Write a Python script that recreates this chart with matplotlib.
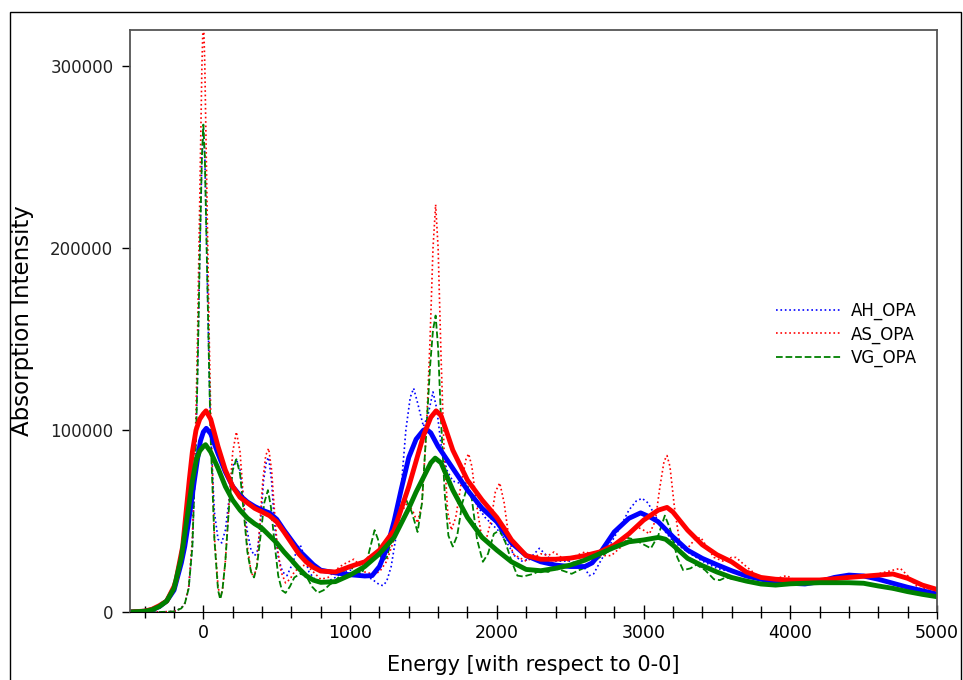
import numpy as np
import matplotlib
matplotlib.use("Agg")
import matplotlib.pyplot as plt
from matplotlib.ticker import MultipleLocator
from matplotlib.patches import Rectangle

# intensities, in thousands
# ---- narrow spectra (dotted / dashed) ----
ah_x = [-500, -300, -200, -150, -125, -100, -75, -50, -40, -25, -10, 0, 10, 25, 40, 50, 75, 100, 125,
        150, 175, 200, 225, 250, 275, 300, 325, 350, 370, 390, 410, 430, 445, 465, 485, 510, 540, 570,
        610, 640, 660, 690, 720, 760, 800, 850, 900, 950, 1000, 1050, 1100, 1150, 1200, 1225, 1250, 1280,
        1310, 1350, 1380, 1410, 1433, 1460, 1500, 1530, 1565, 1590, 1620, 1660, 1700, 1740, 1780, 1820,
        1870, 1920, 1970, 2020, 2070, 2120, 2170, 2220, 2290, 2340, 2380, 2440, 2500, 2560, 2600, 2630,
        2660, 2700, 2750, 2800, 2850, 2900, 2950, 2990, 3030, 3100, 3150, 3200, 3300, 3400, 3500, 3600,
        3700, 3800, 3900, 4000, 4100, 4200, 4300, 4400, 4500, 4600, 4700, 4800, 4900, 5000]
ah_y = [0, 0, 0.3, 2, 5, 13, 36, 95, 130, 195, 250, 266, 250, 190, 130, 98, 55, 40, 38,
        45, 62, 80, 84, 78, 60, 44, 34, 31, 34, 50, 72, 83, 85, 72, 48, 30, 22, 20,
        27, 35, 37, 30, 22, 18, 17, 17, 19, 22, 23, 22, 20, 18, 15, 14.5, 17, 25,
        40, 70, 100, 118, 123, 115, 102, 108, 121, 112, 92, 78, 72, 71, 72, 66,
        58, 52, 48, 44, 38, 31, 28, 29, 35, 31, 28, 28, 28, 26, 24, 20,
        21, 27, 34, 41, 48, 56, 61, 62.5, 60, 50, 44, 39, 33, 28, 24, 22,
        19.5, 18, 16.5, 15.5, 15, 16.5, 19, 20.5, 20, 18, 15.5, 13.5, 11.5, 9.8]

as_x = [-500, -300, -200, -150, -125, -100, -75, -50, -40, -25, -10, 0, 10, 25, 40, 50, 75, 100, 115,
        130, 150, 175, 200, 225, 250, 275, 300, 325, 345, 365, 385, 405, 425, 445, 465, 485, 505, 530,
        560, 590, 620, 660, 700, 750, 800, 850, 900, 950, 1000, 1025, 1050, 1100, 1150, 1200, 1250, 1300,
        1350, 1390, 1430, 1460, 1490, 1520, 1545, 1565, 1583, 1600, 1620, 1640, 1665, 1690, 1720, 1760,
        1790, 1808, 1830, 1860, 1895, 1925, 1960, 1990, 2020, 2050, 2080, 2110, 2150, 2200, 2250, 2300,
        2350, 2390, 2440, 2480, 2540, 2600, 2650, 2700, 2780, 2850, 2900, 2950, 3000, 3040, 3080, 3110,
        3140, 3160, 3180, 3210, 3250, 3300, 3350, 3390, 3430, 3480, 3540, 3600, 3630, 3700, 3790, 3880,
        3930, 3975, 4020, 4100, 4200, 4300, 4400, 4500, 4600, 4700, 4750, 4800, 4850, 4880, 4930, 5000]
as_y = [0, 0, 0.3, 2, 5, 14, 40, 110, 150, 225, 300, 330, 300, 225, 150, 110, 42, 14, 8,
        12, 28, 60, 88, 99, 88, 60, 36, 22, 19, 26, 48, 72, 86, 90, 78, 55, 35, 22,
        16, 18, 22, 25, 26, 22, 18, 19, 23, 26, 28, 29, 27, 22, 21, 22, 28, 40,
        55, 60, 55, 49, 60, 100, 150, 200, 224, 200, 140, 90, 55, 45, 52, 72,
        84, 87, 80, 60, 42, 39, 50, 66, 71, 60, 42, 32, 30, 28, 30, 32,
        31, 33, 30, 28, 31, 33, 32, 31, 31, 36, 42, 47, 45, 43, 50, 68,
        83, 86, 80, 58, 36, 35, 40, 41, 36, 30, 28, 30, 30, 25, 19, 18,
        19, 20, 18, 17.5, 17.5, 18, 19, 19.5, 21, 23, 24, 20, 15, 13, 13, 12]

vg_x = [-500, -300, -200, -150, -125, -100, -75, -50, -40, -25, -10, 0, 10, 25, 40, 50, 75, 100, 115,
        130, 150, 175, 200, 225, 250, 275, 300, 325, 345, 365, 390, 415, 440, 460, 485, 510, 535, 560,
        590, 620, 660, 700, 740, 780, 820, 860, 900, 950, 1000, 1040, 1080, 1120, 1167, 1190, 1216, 1250,
        1290, 1330, 1380, 1420, 1460, 1490, 1520, 1545, 1565, 1583, 1600, 1620, 1645, 1670, 1700, 1730,
        1765, 1800, 1830, 1865, 1905, 1940, 1980, 2020, 2060, 2100, 2140, 2180, 2250, 2300, 2350, 2390,
        2440, 2510, 2560, 2620, 2700, 2790, 2880, 2930, 2980, 3050, 3100, 3145, 3180, 3230, 3270, 3320,
        3360, 3420, 3480, 3520, 3560, 3620, 3700, 3800, 3900, 4000, 4200, 4400, 4500, 4600, 4700, 4800,
        4900, 5000]
vg_y = [0, 0, 0.3, 2, 5, 13, 36, 95, 130, 195, 250, 268, 250, 190, 130, 95, 40, 12, 7,
        12, 28, 58, 78, 84, 76, 55, 33, 22, 19, 25, 42, 60, 67, 58, 38, 20, 12, 10.5,
        14, 19, 21, 20, 14, 10.5, 12, 15, 17, 22, 25, 22, 21, 30, 45, 40, 28, 30,
        42, 55, 62, 55, 44, 60, 100, 135, 155, 163, 145, 105, 65, 42, 36, 42,
        60, 69, 62, 40, 27.6, 32, 43, 45, 38, 28, 20, 19.5, 21, 23, 22, 24,
        23, 21, 23, 25, 30, 35, 41, 40, 38, 35, 42, 53, 46, 30, 23, 24,
        26, 23, 18, 17.5, 19, 18, 16.5, 15, 14.5, 15.5, 16, 16, 15.5, 14, 12.5, 11,
        9.5, 8]

# ---- broadened spectra (thick solid) ----
ahb_x = [-500, -400, -350, -300, -250, -200, -150, -127, -100, -61, -40, -20, 0, 20, 50, 100, 150, 200, 250,
         300, 350, 400, 450, 500, 550, 600, 650, 700, 750, 800, 900, 1000, 1100, 1150, 1200, 1250, 1300,
         1350, 1400, 1450, 1500, 1520, 1550, 1600, 1650, 1700, 1800, 1900, 2000, 2100, 2200, 2300, 2400,
         2500, 2600, 2650, 2700, 2750, 2800, 2900, 2980, 3050, 3100, 3200, 3300, 3400, 3500, 3600, 3700,
         3800, 3900, 4000, 4100, 4200, 4300, 4400, 4500, 4600, 4700, 4800, 4900, 5000]
ahb_y = [0, 0.4, 1.2, 3, 6, 12, 27, 36, 50, 72.5, 84, 94, 99, 101, 98, 87, 77, 69, 64,
         60.5, 58, 56, 54.5, 51, 45, 39.5, 34, 30, 26, 23, 21.5, 20.5, 19.8, 20, 25, 35, 50,
         68, 85, 95, 100, 100.5, 98.5, 91, 85, 79, 67, 57, 49.6, 38, 31, 27.6, 25.8,
         25, 25, 27, 32, 38, 44, 51.5, 54.5, 52, 49.6, 41.4, 34, 29.5, 26, 22.7, 19.8,
         18, 16.7, 15.8, 15.4, 16.7, 19, 20.3, 19.8, 18, 15.8, 13.6, 11.7, 9.9]

asb_x = [-500, -400, -350, -300, -250, -200, -186, -141, -96, -75, -50, -25, 0, 18, 50, 100, 150, 200, 250, 300,
         350, 400, 450, 500, 550, 600, 650, 700, 750, 800, 900, 1000, 1100, 1200, 1300, 1400, 1450, 1500,
         1550, 1586, 1620, 1650, 1700, 1800, 1900, 2000, 2050, 2100, 2200, 2300, 2400, 2500, 2600, 2700,
         2800, 2900, 3000, 3100, 3160, 3200, 3300, 3400, 3500, 3600, 3700, 3800, 3900, 4000, 4200, 4400,
         4600, 4700, 4800, 4900, 5000]
asb_y = [0, 0.5, 1.5, 3.5, 6, 14, 17.6, 36, 72.5, 88, 100, 106, 109, 110.6, 106, 91, 78, 69, 63, 60,
         57, 55, 53, 49.6, 44, 38, 32, 27.6, 24.5, 22.5, 22, 25, 27.6, 34, 45, 69, 83, 97,
         107, 110.6, 108, 101, 89, 72.5, 61.5, 52, 46, 39.6, 31, 29, 29, 29.6, 31, 33,
         36.8, 43, 50.5, 56, 57.5, 55, 45, 37, 31.5, 27.6, 22, 19, 18, 17.6, 17.6, 19,
         20.3, 20.9, 18.5, 14.8, 12.4]

vgb_x = [-500, -400, -350, -300, -250, -200, -150, -100, -75, -50, -25, 0, 15, 50, 100, 150, 200, 250, 300,
         350, 400, 450, 500, 550, 600, 650, 700, 750, 800, 900, 1000, 1100, 1200, 1300, 1400, 1450, 1500,
         1550, 1580, 1620, 1700, 1800, 1900, 2000, 2100, 2200, 2300, 2400, 2500, 2600, 2700, 2800, 2900,
         3000, 3100, 3150, 3200, 3300, 3400, 3500, 3600, 3700, 3800, 3900, 4000, 4200, 4400, 4500, 4600,
         4700, 4800, 4900, 5000]
vgb_y = [0, 0.4, 1.2, 3, 6, 13, 30, 58, 72, 83, 88.5, 91, 92, 88, 79, 69, 61.5, 56, 51.6,
         48.5, 46, 42, 38, 33, 28.6, 24, 20, 17.5, 16.3, 16.7, 20.3, 25, 32, 41, 57, 66, 74,
         82, 84.6, 82, 67, 52, 41, 34, 27.6, 23.4, 22.7, 24, 25.8, 28.5, 32, 35.5, 38.6,
         39.6, 41, 40, 36.8, 29.5, 25.5, 22, 19, 17, 15.4, 14.8, 15.5, 16.1, 16.1, 15.8, 14.3,
         13, 11.2, 9.7, 8.4]

K = 1000.0

fig = plt.figure(figsize=(9.63, 6.8), dpi=100)
ax = fig.add_axes([130 / 963, 68 / 680, 807 / 963, 582 / 680])

ax.plot(ah_x, np.array(ah_y) * K, color="blue", ls=":", lw=1.2, label="AH_OPA")
ax.plot(as_x, np.array(as_y) * K, color="red", ls=":", lw=1.2, label="AS_OPA")
ax.plot(vg_x, np.array(vg_y) * K, color="green", ls="--", lw=1.3, label="VG_OPA")

ax.plot(ahb_x, np.array(ahb_y) * K, color="blue", lw=3.5)
ax.plot(asb_x, np.array(asb_y) * K, color="red", lw=3.5)
ax.plot(vgb_x, np.array(vgb_y) * K, color="green", lw=3.5)

ax.set_xlim(-500, 5000)
ax.set_ylim(0, 320000)
ax.set_yticks([0, 100000, 200000, 300000])
ax.xaxis.set_major_locator(MultipleLocator(1000))
ax.xaxis.set_minor_locator(MultipleLocator(200))
ax.tick_params(axis="x", which="major", direction="inout", length=10, width=1, labelsize=12.5, pad=4)
ax.tick_params(axis="x", which="minor", direction="inout", length=8, width=1)
ax.tick_params(axis="y", direction="out", length=6, width=1, labelsize=12, labelcolor="#222222", pad=6)

for s in ["left", "top", "right"]:
    ax.spines[s].set_color("#555555")
    ax.spines[s].set_linewidth(1.3)
ax.spines["bottom"].set_color("black")

ax.set_xlabel("Energy [with respect to 0-0]", fontsize=15, labelpad=9)
ax.set_ylabel("Absorption Intensity", fontsize=16.5, labelpad=12)

ax.legend(loc="center right", bbox_to_anchor=(0.994, 0.477), frameon=False, fontsize=12,
          handlelength=3.9, handletextpad=0.6, labelspacing=0.3)

fig.patches.append(Rectangle((10 / 963, -0.02), 951 / 963, 1.02 - 12 / 680, transform=fig.transFigure,
                             fill=False, edgecolor="black", lw=1))

fig.savefig("out.png", dpi=100)
